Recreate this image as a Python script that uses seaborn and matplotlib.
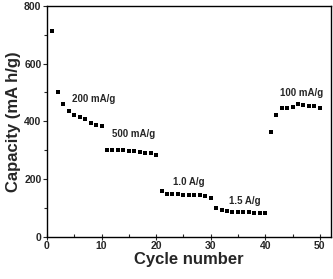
# rate capability plot: capacity vs cycle number at different current densities

import matplotlib
matplotlib.use("Agg")
import matplotlib.pyplot as plt
from matplotlib.ticker import MultipleLocator
import numpy as np
import pandas as pd
import seaborn as sns

# data
cycles = list(range(1, 51))
capacity = [713, 501, 460, 437, 422, 415, 407, 394, 388, 385,
            302, 301, 300, 299, 297, 296, 293, 291, 290, 285,
            158, 149, 148, 147, 146, 145, 144, 143, 141, 134,
            100, 93, 90, 87, 86, 85, 84, 83, 83, 81,
            364, 422, 445, 447, 451, 459, 456, 454, 452, 447]

rate_labels = ["200 mA/g", "500 mA/g", "1.0 A/g", "1.5 A/g", "100 mA/g"]
label_x = [8.5, 15.8, 26.0, 36.3, 46.7]
label_y = [477, 355, 188, 123, 497]

df = pd.DataFrame({"cycle": cycles, "capacity": capacity})

sns.set_style("ticks")
plt.rcParams["font.family"] = ["Liberation Sans", "DejaVu Sans"]

fig = plt.figure(figsize=(3.33, 2.79), dpi=100)
ax = fig.add_axes([0.1411, 0.1516, 0.852, 0.827])

sns.scatterplot(data=df, x="cycle", y="capacity", marker="s", color="black",
                s=12, linewidth=0, ax=ax)

for txt, x, y in zip(rate_labels, label_x, label_y):
    ax.text(x, y, txt, ha="center", va="center", fontsize=7, fontweight="bold")

ax.set_xlim(0, 52)
ax.set_ylim(0, 800)
ax.xaxis.set_major_locator(MultipleLocator(10))
ax.xaxis.set_minor_locator(MultipleLocator(5))
ax.yaxis.set_major_locator(MultipleLocator(200))
ax.yaxis.set_minor_locator(MultipleLocator(100))

ax.tick_params(axis="x", which="major", direction="inout", length=4, width=0.8, labelsize=7.5, pad=1)
ax.tick_params(axis="x", which="minor", direction="in", length=2.5, width=0.8)
ax.tick_params(axis="y", which="major", direction="out", length=3, width=0.8, labelsize=7.5, pad=1)
ax.tick_params(axis="y", which="minor", direction="out", length=2, width=0.8)
for lab in ax.get_xticklabels() + ax.get_yticklabels():
    lab.set_fontweight("bold")

for sp in ax.spines.values():
    sp.set_linewidth(1.0)
    sp.set_color("black")

ax.set_xlabel("Cycle number", fontsize=12, fontweight="bold", labelpad=1)
ax.set_ylabel("Capacity (mA h/g)", fontsize=12, fontweight="bold", labelpad=2)

fig.savefig("out.png", dpi=100)
